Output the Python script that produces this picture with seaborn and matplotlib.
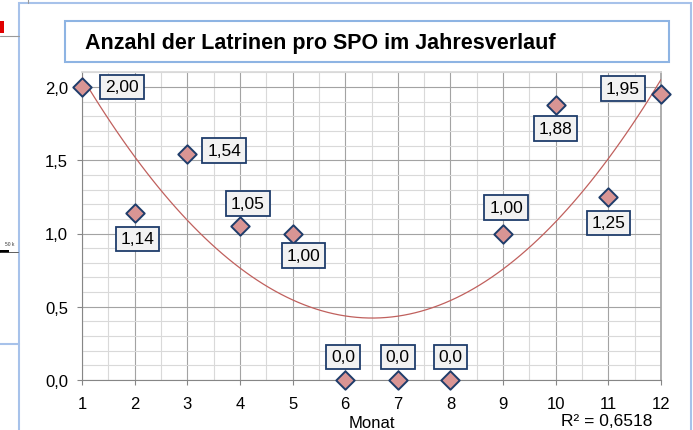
import numpy as np
import pandas as pd
import matplotlib
matplotlib.use("Agg")
import matplotlib.pyplot as plt
import seaborn as sns
from matplotlib.ticker import MultipleLocator, FuncFormatter
from matplotlib.patches import Rectangle
from matplotlib.lines import Line2D

# ---- data ----
months = [1, 2, 3, 4, 5, 6, 7, 8, 9, 10, 11, 12]
values = [2.00, 1.14, 1.54, 1.05, 1.00, 0.0, 0.0, 0.0, 1.00, 1.88, 1.25, 1.95]
value_labels = ["2,00", "1,14", "1,54", "1,05", "1,00", "0,0", "0,0", "0,0",
                "1,00", "1,88", "1,25", "1,95"]
title = "Anzahl der Latrinen pro SPO im Jahresverlauf"
x_label = "Monat"
r2_text = "R\u00b2 = 0,6518"

# label offsets in pixels (dx, dy) relative to the marker
label_offsets = [(40, 0), (3, -26), (37, 4), (8, 23), (11, -22), (-2, 23), (0, 23), (0, 23),
                 (3, 26), (0, -24), (0, -26), (-38, 6)]

sns.set_theme(style="white")
plt.rcParams['font.family'] = ['Liberation Sans', 'DejaVu Sans']

W, H = 693, 431
fig = plt.figure(figsize=(W / 100, H / 100), dpi=100)

def fx(px):
    return px / W

def fy(py):
    return 1 - py / H

# outer light-blue frame and background remnants
fig.add_artist(Rectangle((fx(19), fy(440)), fx(691) - fx(19), fy(4) - fy(440),
                         transform=fig.transFigure, fill=False, ec="#a7c2ea", lw=1.5))
fig.add_artist(Line2D([0, fx(19)], [fy(345), fy(345)], transform=fig.transFigure, color="#a7c2ea", lw=1.5))
fig.add_artist(Line2D([0, fx(19)], [fy(37), fy(37)], transform=fig.transFigure, color="#9a9a9a", lw=0.8))
fig.add_artist(Line2D([fx(28), fx(28)], [fy(0), fy(4)], transform=fig.transFigure, color="#9a9a9a", lw=0.8))
fig.add_artist(Rectangle((0, fy(34)), fx(4), fy(22) - fy(34), transform=fig.transFigure,
                         fc="#e00000", ec="none"))
fig.add_artist(Rectangle((0, fy(254)), fx(9), fy(251) - fy(254), transform=fig.transFigure,
                         fc="black", ec="none"))
fig.add_artist(Line2D([0, fx(18)], [fy(253), fy(253)], transform=fig.transFigure, color="#444444", lw=0.6))
fig.text(fx(5), fy(245), "50 k", fontsize=3.5, va="center", ha="left", color="#333333")

# title box
fig.add_artist(Rectangle((fx(65), fy(63)), fx(669) - fx(65), fy(22) - fy(63),
                         transform=fig.transFigure, fc="white", ec="#8eb4e3", lw=1.5))
fig.text(fx(85), fy(43), title, fontsize=15.5, fontweight="bold", va="center", ha="left", color="black")

# axes
ppu = 146.5
ymax = 2.1
ax = fig.add_axes([fx(82), fy(381), (661 - 82) / W, ymax * ppu / H])

df = pd.DataFrame({"Monat": months, "Wert": values})

sns.regplot(data=df, x="Monat", y="Wert", order=2, ci=None, scatter=False, truncate=True,
            ax=ax, line_kws=dict(color="#c0605d", lw=0.9, zorder=3))
sns.scatterplot(data=df, x="Monat", y="Wert", marker="D", s=88, color="#d99594",
                edgecolor="#1f3d6b", linewidth=1.4, ax=ax, zorder=5, legend=False)
for c in ax.collections:
    c.set_clip_on(False)

ax.set_xlim(1, 12)
ax.set_ylim(0, ymax)
ax.xaxis.set_major_locator(MultipleLocator(1))
ax.xaxis.set_minor_locator(MultipleLocator(0.5))
ax.yaxis.set_major_locator(MultipleLocator(0.5))
ax.yaxis.set_minor_locator(MultipleLocator(0.1))
ax.yaxis.set_major_formatter(FuncFormatter(lambda v, p: f"{v:.1f}".replace(".", ",") if v <= 2.0 + 1e-9 else ""))
ax.xaxis.set_major_formatter(FuncFormatter(lambda v, p: f"{int(round(v))}"))

ax.grid(which="major", color="#a3a3a3", lw=0.8)
ax.grid(which="minor", color="#d9d9d9", lw=0.8)
ax.set_axisbelow(True)
ax.tick_params(which="minor", length=0)
ax.tick_params(which="major", length=3.6, width=0.8, color="#868686", direction="out",
               labelsize=12, pad=6.5, labelcolor="black")
ax.tick_params(axis="x", bottom=True, pad=8)
ax.tick_params(axis="y", left=True)
for s in ["left", "bottom"]:
    ax.spines[s].set_color("#868686")
    ax.spines[s].set_linewidth(0.8)
ax.spines["top"].set_color("#d9d9d9")
ax.spines["right"].set_color("#a3a3a3")
for s in ax.spines.values():
    s.set_zorder(1)

ax.set_xlabel(x_label, fontsize=12, labelpad=2.5, color="black")
ax.set_ylabel("")

# data labels
for m, v, lab, (dx, dy) in zip(months, values, value_labels, label_offsets):
    ax.annotate(lab, xy=(m, v), xytext=(dx * 0.72, dy * 0.72), textcoords="offset points",
                ha="center", va="center", fontsize=12.5, color="black", zorder=6,
                annotation_clip=False,
                bbox=dict(boxstyle="square,pad=0.28", fc="#f2f2f2", ec="#1f3d6b", lw=1.3))

fig.text(fx(607), fy(421.5), r2_text, fontsize=12.5, ha="center", va="center", color="black")

fig.savefig("out.png", dpi=100)
